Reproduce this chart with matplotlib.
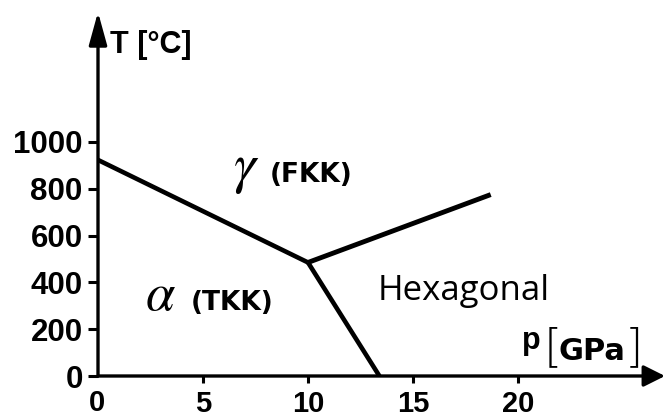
import matplotlib
matplotlib.use("Agg")
import matplotlib.pyplot as plt

plt.rcParams['font.family'] = ['Liberation Sans', 'DejaVu Sans']
plt.rcParams['mathtext.fontset'] = 'stix'

# phase boundaries: p [GPa], T [C]
triple_p = 10.0
triple_T = 485
alpha_gamma_p = [0.0, triple_p]
alpha_gamma_T = [923, triple_T]
gamma_hex_p = [triple_p, 18.7]
gamma_hex_T = [triple_T, 775]
alpha_hex_p = [triple_p, 13.4]
alpha_hex_T = [triple_T, 0]

xticks = [5, 10, 15, 20]
yticks = [0, 200, 400, 600, 800, 1000]

fig = plt.figure(figsize=(6.72, 4.19), dpi=100)
ax = fig.add_axes([98 / 672, 43 / 419, 567 / 672, 364 / 419])
ax.set_xlim(0, 27.0)
ax.set_ylim(0, 1555)

for s in ax.spines.values():
    s.set_visible(False)

# axes with arrow heads
ax.annotate('', xy=(0, 1), xytext=(0, 0), xycoords='axes fraction',
            arrowprops=dict(arrowstyle='-|>,head_length=2.0,head_width=0.55',
                            mutation_scale=10, lw=2.4, color='black',
                            shrinkA=0, shrinkB=0))
ax.annotate('', xy=(1, 0), xytext=(0, 0), xycoords='axes fraction',
            arrowprops=dict(arrowstyle='-|>,head_length=1.3,head_width=0.65',
                            mutation_scale=10, lw=2.4, color='black',
                            shrinkA=0, shrinkB=0))

ax.plot(alpha_gamma_p, alpha_gamma_T, color='black', lw=3.3, solid_capstyle='butt')
ax.plot(gamma_hex_p, gamma_hex_T, color='black', lw=3.5, solid_capstyle='butt')
ax.plot(alpha_hex_p, alpha_hex_T, color='black', lw=3.3, solid_capstyle='butt')

ax.set_xticks(xticks)
ax.set_yticks(yticks)
ax.tick_params(axis='y', direction='out', length=7, width=2.2, pad=4)
ax.tick_params(axis='x', direction='out', length=5, width=2.2, pad=5)
for lab in ax.get_yticklabels():
    lab.set_fontsize(22.5)
    lab.set_fontweight('bold')
for lab in ax.get_xticklabels():
    lab.set_fontsize(21)
    lab.set_fontweight('bold')

# zero of the pressure axis sits under the corner
ax.annotate('0', xy=(0, 0), xytext=(-1, -9), textcoords='offset points',
            ha='center', va='top', fontsize=21, fontweight='bold')

# axis titles
ax.text(0.57, 1380, 'T [°C]', fontsize=22, fontweight='bold', ha='left', va='baseline')
ax.text(20.2, 115, 'p', fontsize=22, fontweight='bold', ha='left', va='baseline')
ax.text(21.2, 62, '[', fontsize=34, family='DejaVu Sans', fontweight='light',
        ha='left', va='baseline')
ax.text(21.95, 68, 'GPa', fontsize=22, family='DejaVu Sans', fontweight='bold',
        ha='left', va='baseline')
ax.text(25.1, 62, ']', fontsize=34, family='DejaVu Sans', fontweight='light',
        ha='left', va='baseline')

# phase labels
ax.text(6.45, 830, r'$\gamma$', fontsize=40, ha='left', va='baseline')
ax.text(8.2, 830, '(FKK)', fontsize=19, family='DejaVu Sans', fontweight='bold',
        ha='left', va='baseline')
ax.text(2.25, 283, r'$\alpha$', fontsize=38, ha='left', va='baseline')
ax.text(4.4, 283, '(TKK)', fontsize=19, family='DejaVu Sans', fontweight='bold',
        ha='left', va='baseline')
ax.text(13.3, 325, 'Hexagonal', fontsize=25, family='Open Sans', ha='left', va='baseline')

fig.savefig('out.png', dpi=100)
